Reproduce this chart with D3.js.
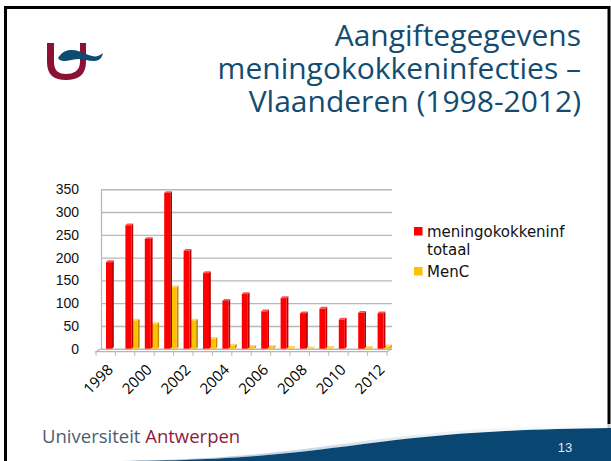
<!DOCTYPE html>
<html>
<head>
	<meta charset="utf-8">
	<title> meningokokken </title>
	<script src="https://d3js.org/d3.v7.min.js"></script>
	<style>
		body { margin: 0; background: #fff; }
		svg { display: block; }
	</style>
</head>
<body>
	<svg width="611" height="461"></svg>
	<script type="text/javascript">
		// data
		let years = ["1998","1999","2000","2001","2002","2003","2004","2005",
		             "2006","2007","2008","2009","2010","2011","2012"];
		let totaal = [190, 271, 241, 342, 215, 166, 105, 120, 82, 111, 78, 88, 64, 79, 78];
		let menC = [0, 62, 54, 135, 62, 22, 7, 4, 4, 2, 1, 2, 0, 2, 5];
		let yTicks = [0, 50, 100, 150, 200, 250, 300, 350];
		let xLabels = ["1998","2000","2002","2004","2006","2008","2010","2012"];
		let seriesNames = [["meningokokkeninf", "totaal"], ["MenC"]];
		let colorSet = ["#ff0000", "#ffc000"];
		let sideSet = ["#b80000", "#c08c00"];
		let topSet = ["#ff5050", "#ffd860"];
		let titleLines = ["Aangiftegegevens", "meningokokkeninfecties \u2013", "Vlaanderen (1998-2012)"];

		let svg = d3.select("svg");

		// slide frame
		svg.append("path")
			.attr("d", "M5.5,461 L5.5,7.5 L609,7.5 L609,430")
			.attr("fill", "none").attr("stroke", "#000").attr("stroke-width", 3);

		// footer wave
		let defs = svg.append("defs");
		let grad = defs.append("linearGradient").attr("id", "glow").attr("x1", 0).attr("y1", 0).attr("x2", 0).attr("y2", 1);
		grad.append("stop").attr("offset", "0").attr("stop-color", "#ffffff");
		grad.append("stop").attr("offset", "1").attr("stop-color", "#9fbcd6");
		svg.append("path")
			.attr("d", "M120,461 C250,459 300,449 380,439 C450,430 520,425 611,424 L611,428 C520,429 450,433 380,442 C300,452 250,460 130,461 Z")
			.attr("fill", "url(#glow)").attr("opacity", 0.8);
		svg.append("path")
			.attr("d", "M130,461 C250,460 300,452 380,442 C450,433 520,429 611,428 L611,461 Z")
			.attr("fill", "#0a4672");
		svg.append("text").attr("x", 565).attr("y", 452).attr("text-anchor", "middle")
			.style("font-family", "Liberation Sans").style("font-size", "13px")
			.attr("fill", "#dfe7ef").text("13");

		let foot = svg.append("text").attr("x", 42).attr("y", 443)
			.style("font-family", "Open Sans").style("font-size", "18.5px");
		foot.append("tspan").attr("fill", "#4b5d70").text("Universiteit ");
		foot.append("tspan").attr("fill", "#8c1c40").text("Antwerpen");

		// logo
		let logo = svg.append("g").attr("transform", "translate(40,42)");
		logo.append("path")
			.attr("d", "M7,1 L14,1 L14,20 C14,29 19,32 26,32 C33,32 40,29 40,20 L40,1 L46,1 L46,20 C46,33 38,38 26,38 C14,38 7,33 7,20 Z")
			.attr("fill", "#8b1234");
		logo.append("path")
			.attr("d", "M18,16 C22,10 26,8 31,8 C37,8 41,10 46,12 C51,14 55,15 58,14 C60,13 62,12 63,11 C62,16 59,19 54,19 C48,19 44,17 40,17 C34,17 28,19 24,19 C21,19 19,18 18,16 Z")
			.attr("fill", "#0d4b73");

		// title (three separate lines, set tight like the slide)
		svg.selectAll(".title").data(titleLines).join("text")
			.attr("class", "title")
			.attr("text-anchor", "end")
			.attr("x", 581)
			.attr("y", function(d, i) { return 46 + 33 * i; })
			.style("font-family", "Open Sans").style("font-size", "30px")
			.attr("fill", "#134c70")
			.text(function(d) { return d; });

		// chart
		let x = d3.scaleBand().domain(years).range([101, 392]);
		let xs = d3.scaleBand().domain([0, 1]).range([5, 18]);
		let y = d3.scaleLinear().domain([0, 350]).range([348.7, 189.3]);

		let yAxis = d3.axisLeft(y).tickValues(yTicks).tickSizeInner(-(392 - 101)).tickSizeOuter(0).tickPadding(22);
		let ga = svg.append("g").attr("transform", "translate(101,0)").call(yAxis);
		ga.select(".domain").attr("stroke", "#b5b5b5").attr("stroke-width", 1.2);
		ga.selectAll(".tick line").attr("stroke", "#b8b8b8").attr("stroke-width", 1.4);
		ga.selectAll(".tick text").attr("fill", "#111")
			.style("font-family", "Liberation Sans").style("font-size", "14px");

		// floor of the 3D plot
		let y0 = y(0);
		svg.append("path")
			.attr("d", "M101," + y0 + " L96," + (y0 + 3) + " L387," + (y0 + 3) + " L392," + y0)
			.attr("fill", "none").attr("stroke", "#b5b5b5").attr("stroke-width", 1.2);
		svg.selectAll(".floortick").data(years.concat(["end"])).join("line")
			.attr("class", "floortick")
			.attr("x1", function(d, i) { return 96 + x.bandwidth() * i; })
			.attr("x2", function(d, i) { return 96 + x.bandwidth() * i; })
			.attr("y1", y0 + 3).attr("y2", y0 + 7)
			.attr("stroke", "#b5b5b5").attr("stroke-width", 1);

		// bars: yellow first so the red side face sits on top
		let dep = 1.8;
		function drawSeries(values, s)
		{
			let g = svg.append("g");
			let w = xs.bandwidth() - 0.5;
			values.forEach(function(v, i) {
				if (v <= 0) return;
				let bx = x(years[i]) + xs(s);
				let by = y(v);
				g.append("path")
					.attr("d", "M" + (bx + w) + "," + by + " L" + (bx + w + dep) + "," + (by - dep) +
						" L" + (bx + w + dep) + "," + (y0 - dep) + " L" + (bx + w) + "," + y0 + " Z")
					.attr("fill", sideSet[s]);
				g.append("path")
					.attr("d", "M" + bx + "," + by + " L" + (bx + dep) + "," + (by - dep) +
						" L" + (bx + w + dep) + "," + (by - dep) + " L" + (bx + w) + "," + by + " Z")
					.attr("fill", topSet[s]);
				g.append("rect")
					.attr("x", bx).attr("y", by)
					.attr("width", w).attr("height", y0 - by)
					.attr("fill", colorSet[s]);
			});
		}
		drawSeries(menC, 1);
		drawSeries(totaal, 0);

		// x labels, rotated
		svg.selectAll(".xlab").data(xLabels).join("text")
			.attr("class", "xlab")
			.attr("text-anchor", "end")
			.attr("transform", function(d) {
				return "translate(" + (x(d) + 13) + "," + (y0 + 22) + ") rotate(-45)";
			})
			.style("font-family", "Open Sans").style("font-size", "15px")
			.attr("fill", "#000")
			.text(function(d) { return d; });

		// legend
		let leg = svg.append("g").style("font-family", "DejaVu Sans").style("font-size", "15px");
		let legY = [227, 267];
		seriesNames.forEach(function(lines, s) {
			leg.append("rect").attr("x", 414).attr("y", legY[s])
				.attr("width", 8.5).attr("height", 8.5).attr("fill", colorSet[s]);
			leg.append("text").attr("fill", "#111")
				.selectAll("tspan").data(lines).join("tspan")
				.attr("x", 427)
				.attr("y", function(d, i) { return legY[s] + 9.5 + 18 * i; })
				.text(function(d) { return d; });
		});
	</script>
</body>
</html>
